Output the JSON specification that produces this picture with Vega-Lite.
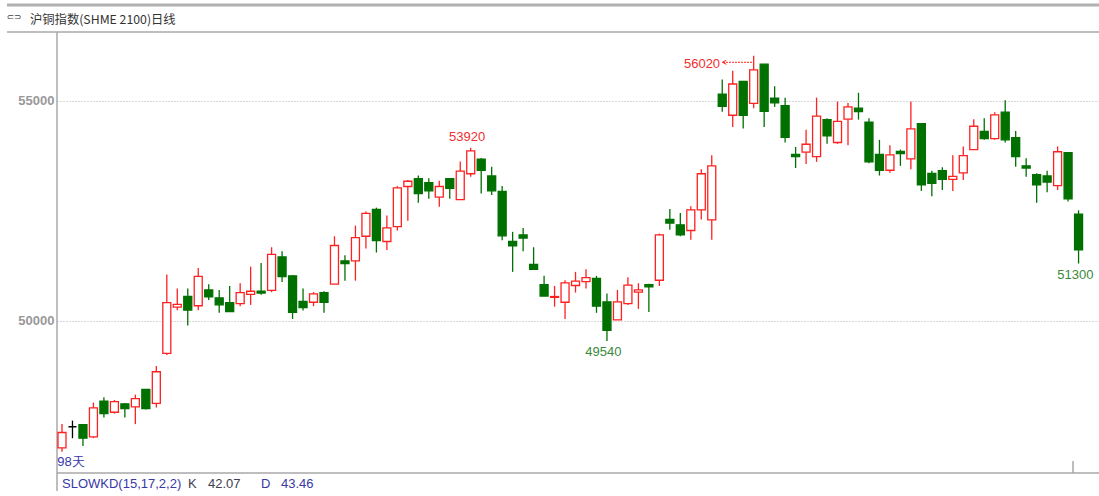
{"$schema":"https://vega.github.io/schema/vega-lite/v6.json","width":1042,"height":487,"padding":{"left":57,"top":4,"right":0,"bottom":5},"autosize":"none","background":"white","view":{"stroke":null},
"title":{"text":"沪铜指数(SHME 2100)日线","anchor":"start","frame":"group","dx":-27,"offset":-23,"font":"Noto Sans CJK SC","fontSize":12.3,"fontWeight":"normal","color":"#333333"},
"datasets":{
"candles":[
{"i":0,"o":47110,"h":47650,"l":47020,"c":47460,"d":"up"},{"i":1,"o":47590,"h":47730,"l":47330,"c":47590,"d":"flat"},{"i":2,"o":47640,"h":47650,"l":47150,"c":47330,"d":"down"},{"i":3,"o":47360,"h":48140,"l":47330,"c":48020,"d":"up"},{"i":4,"o":48170,"h":48260,"l":47800,"c":47890,"d":"down"},{"i":5,"o":47920,"h":48200,"l":47890,"c":48160,"d":"up"},{"i":6,"o":48110,"h":48130,"l":47800,"c":48000,"d":"down"},{"i":7,"o":48040,"h":48320,"l":47650,"c":48230,"d":"up"},{"i":8,"o":48440,"h":48440,"l":47980,"c":48000,"d":"down"},{"i":9,"o":48120,"h":48970,"l":48030,"c":48840,"d":"up"},
{"i":10,"o":49260,"h":51050,"l":49220,"c":50410,"d":"up"},{"i":11,"o":50310,"h":50730,"l":50240,"c":50370,"d":"up"},{"i":12,"o":50550,"h":50730,"l":49890,"c":50240,"d":"down"},{"i":13,"o":50340,"h":51200,"l":50240,"c":51010,"d":"up"},{"i":14,"o":50700,"h":50830,"l":50470,"c":50540,"d":"down"},{"i":15,"o":50520,"h":50700,"l":50180,"c":50360,"d":"down"},{"i":16,"o":50410,"h":50790,"l":50210,"c":50210,"d":"down"},{"i":17,"o":50390,"h":50850,"l":50330,"c":50640,"d":"up"},{"i":18,"o":50600,"h":51230,"l":50360,"c":50670,"d":"up"},{"i":19,"o":50670,"h":51310,"l":50590,"c":50630,"d":"down"},
{"i":20,"o":50690,"h":51670,"l":50650,"c":51510,"d":"up"},{"i":21,"o":51450,"h":51580,"l":50880,"c":51000,"d":"down"},{"i":22,"o":51020,"h":51040,"l":50040,"c":50190,"d":"down"},{"i":23,"o":50440,"h":50730,"l":50230,"c":50300,"d":"down"},{"i":24,"o":50420,"h":50650,"l":50330,"c":50610,"d":"up"},{"i":25,"o":50640,"h":50670,"l":50180,"c":50420,"d":"down"},{"i":26,"o":50830,"h":51920,"l":50830,"c":51710,"d":"up"},{"i":27,"o":51360,"h":51490,"l":50910,"c":51300,"d":"down"},{"i":28,"o":51360,"h":52160,"l":50910,"c":51890,"d":"up"},{"i":29,"o":51920,"h":52480,"l":51640,"c":52440,"d":"up"},
{"i":30,"o":52530,"h":52570,"l":51550,"c":51820,"d":"down"},{"i":31,"o":51800,"h":52390,"l":51610,"c":52110,"d":"up"},{"i":32,"o":52140,"h":53060,"l":52050,"c":53020,"d":"up"},{"i":33,"o":53050,"h":53200,"l":52270,"c":53170,"d":"up"},{"i":34,"o":53230,"h":53300,"l":52680,"c":52890,"d":"down"},{"i":35,"o":53140,"h":53240,"l":52770,"c":52950,"d":"down"},{"i":36,"o":52810,"h":53180,"l":52590,"c":53050,"d":"up"},{"i":37,"o":53230,"h":53240,"l":52770,"c":53010,"d":"down"},{"i":38,"o":52750,"h":53620,"l":52750,"c":53400,"d":"up"},{"i":39,"o":53340,"h":53930,"l":53270,"c":53860,"d":"up"},
{"i":40,"o":53670,"h":53700,"l":52890,"c":53420,"d":"down"},{"i":41,"o":53290,"h":53500,"l":52860,"c":52950,"d":"down"},{"i":42,"o":52940,"h":53060,"l":51830,"c":51930,"d":"down"},{"i":43,"o":51800,"h":52020,"l":51110,"c":51700,"d":"down"},{"i":44,"o":51950,"h":52110,"l":51580,"c":51880,"d":"down"},{"i":45,"o":51280,"h":51670,"l":51170,"c":51170,"d":"down"},{"i":46,"o":50820,"h":51020,"l":50560,"c":50560,"d":"down"},{"i":47,"o":50530,"h":50790,"l":50320,"c":50550,"d":"up"},{"i":48,"o":50420,"h":50920,"l":50040,"c":50860,"d":"up"},{"i":49,"o":50800,"h":51110,"l":50640,"c":50900,"d":"up"},
{"i":50,"o":50890,"h":51170,"l":50730,"c":50980,"d":"up"},{"i":51,"o":50960,"h":51020,"l":50180,"c":50330,"d":"down"},{"i":52,"o":50430,"h":50620,"l":49540,"c":49780,"d":"down"},{"i":53,"o":50020,"h":50700,"l":50020,"c":50430,"d":"up"},{"i":54,"o":50390,"h":50990,"l":50360,"c":50810,"d":"up"},{"i":55,"o":50650,"h":50850,"l":50270,"c":50700,"d":"up"},{"i":56,"o":50820,"h":50840,"l":50200,"c":50770,"d":"down"},{"i":57,"o":50920,"h":51980,"l":50790,"c":51950,"d":"up"},{"i":58,"o":52300,"h":52540,"l":52070,"c":52220,"d":"down"},{"i":59,"o":52180,"h":52450,"l":51920,"c":51950,"d":"down"},
{"i":60,"o":52050,"h":52600,"l":51840,"c":52520,"d":"up"},{"i":61,"o":52520,"h":53440,"l":52300,"c":53340,"d":"up"},{"i":62,"o":52290,"h":53760,"l":51840,"c":53520,"d":"up"},{"i":63,"o":55150,"h":55480,"l":54750,"c":54870,"d":"down"},{"i":64,"o":54670,"h":55680,"l":54400,"c":55380,"d":"up"},{"i":65,"o":55440,"h":55450,"l":54370,"c":54670,"d":"down"},{"i":66,"o":54940,"h":56020,"l":54830,"c":55700,"d":"up"},{"i":67,"o":55830,"h":55830,"l":54400,"c":54760,"d":"down"},{"i":68,"o":55060,"h":55330,"l":54860,"c":54950,"d":"down"},{"i":69,"o":54890,"h":55070,"l":54050,"c":54170,"d":"down"},
{"i":70,"o":53780,"h":53950,"l":53470,"c":53730,"d":"down"},{"i":71,"o":53830,"h":54340,"l":53560,"c":54010,"d":"up"},{"i":72,"o":53730,"h":55070,"l":53610,"c":54650,"d":"up"},{"i":73,"o":54570,"h":54600,"l":54020,"c":54200,"d":"down"},{"i":74,"o":54050,"h":54980,"l":54020,"c":54530,"d":"up"},{"i":75,"o":54580,"h":54950,"l":53990,"c":54860,"d":"up"},{"i":76,"o":54830,"h":55180,"l":54570,"c":54750,"d":"down"},{"i":77,"o":54510,"h":54600,"l":53580,"c":53610,"d":"down"},{"i":78,"o":53780,"h":54110,"l":53300,"c":53420,"d":"down"},{"i":79,"o":53420,"h":53990,"l":53360,"c":53770,"d":"up"},
{"i":80,"o":53850,"h":53890,"l":53520,"c":53800,"d":"down"},{"i":81,"o":53680,"h":54980,"l":53440,"c":54360,"d":"up"},{"i":82,"o":54480,"h":54490,"l":52950,"c":53090,"d":"down"},{"i":83,"o":53350,"h":53410,"l":52830,"c":53120,"d":"down"},{"i":84,"o":53410,"h":53490,"l":52970,"c":53210,"d":"down"},{"i":85,"o":53210,"h":53760,"l":52950,"c":53280,"d":"up"},{"i":86,"o":53360,"h":53960,"l":53200,"c":53750,"d":"up"},{"i":87,"o":53890,"h":54580,"l":53890,"c":54420,"d":"up"},{"i":88,"o":54300,"h":54600,"l":54110,"c":54140,"d":"down"},{"i":89,"o":54140,"h":54740,"l":54110,"c":54680,"d":"up"},
{"i":90,"o":54740,"h":55010,"l":54050,"c":54110,"d":"down"},{"i":91,"o":54160,"h":54310,"l":53500,"c":53730,"d":"down"},{"i":92,"o":53520,"h":53690,"l":53270,"c":53470,"d":"down"},{"i":93,"o":53320,"h":53350,"l":52680,"c":53090,"d":"down"},{"i":94,"o":53290,"h":53410,"l":52920,"c":53150,"d":"down"},{"i":95,"o":53070,"h":53960,"l":52970,"c":53840,"d":"up"},{"i":96,"o":53820,"h":53820,"l":52710,"c":52770,"d":"down"},{"i":97,"o":52420,"h":52510,"l":51300,"c":51610,"d":"down"}
],
"centered":[
{"i":38.65,"p":54175,"label":"53920","kind":"high"},{"i":61.07,"p":55834,"label":"56020","kind":"high"},{"i":51.65,"p":49289,"label":"49540","kind":"low"},{"i":96.7,"p":51039,"label":"51300","kind":"low"}
],
"status":[
{"i":-0.45,"p":46789,"label":"98天","kind":"blue"},{"i":0,"p":46289,"label":"SLOWKD(15,17,2,2)","kind":"blue"},{"i":12.02,"p":46289,"label":"K","kind":"dark"},{"i":13.93,"p":46289,"label":"42.07","kind":"dark"},{"i":18.99,"p":46289,"label":"D","kind":"blue"},{"i":20.9,"p":46289,"label":"43.46","kind":"blue"}
],
"frame":[
{"i0":-5.25,"i1":98.95,"p0":56563,"p1":56563},{"i0":-0.477,"i1":98.95,"p0":46539,"p1":46539},{"i0":-0.477,"i1":-0.477,"p0":56563,"p1":46130},{"i0":96.47,"i1":96.47,"p0":46810,"p1":46539}
]
},
"layer":[
{"data":{"name":"frame"},"mark":{"type":"rule","color":"#a8a8a8","strokeWidth":1.5},"encoding":{"x":{"field":"i0","type":"quantitative","scale":{"domain":[-0.477,98.95],"nice":false,"zero":false,"padding":0},"axis":null},"x2":{"field":"i1"},"y":{"field":"p0","type":"quantitative","scale":{"domain":[46130,57198],"nice":false,"zero":false,"padding":0},"axis":{"title":null,"values":[50000,55000],"format":"d","domain":false,"ticks":false,"labelPadding":3,"labelColor":"#999999","labelFont":"Liberation Sans","labelFontSize":13,"labelFontWeight":"bold","grid":true,"gridColor":"#b0b0b0","gridDash":[1,2],"gridWidth":1}},"y2":{"field":"p1"}}},
{"data":{"values":[{"i0":-5.25,"i1":98.95,"p":57175}]},"mark":{"type":"rule","color":"#b0b0b0","strokeWidth":3},"encoding":{"x":{"field":"i0","type":"quantitative"},"x2":{"field":"i1"},"y":{"field":"p","type":"quantitative"}}},
{"data":{"name":"candles"},"mark":{"type":"rule","strokeWidth":1.3},"encoding":{"x":{"field":"i","type":"quantitative"},"y":{"field":"h","type":"quantitative"},"y2":{"field":"l"},"color":{"field":"d","type":"nominal","legend":null,"scale":{"domain":["up","down","flat","high","low","blue","dark"],"range":["#ff2020","#007000","#000000","#f03030","#3a8a3a","#3838a8","#404050"]}}}},
{"data":{"name":"candles"},"mark":{"type":"bar","size":8,"strokeWidth":1.3,"clip":false},"encoding":{"x":{"field":"i","type":"quantitative"},"y":{"field":"o","type":"quantitative"},"y2":{"field":"c"},"stroke":{"field":"d","type":"nominal","legend":null,"scale":{"domain":["up","down","flat"],"range":["#ff2020","#007000","#000000"]}},"fill":{"field":"d","type":"nominal","legend":null,"scale":{"domain":["up","down","flat"],"range":["#ffffff","#007000","#000000"]}}}},
{"data":{"values":[{"i0":63.07,"i1":65.84,"p":55873}]},"mark":{"type":"rule","color":"#ff2020","strokeWidth":1,"strokeDash":[2,1]},"encoding":{"x":{"field":"i0","type":"quantitative"},"x2":{"field":"i1"},"y":{"field":"p","type":"quantitative"}}},
{"data":{"values":[{"i":63.2,"p":55873}]},"mark":{"type":"point","shape":"M1,-1L-1,0L1,1","size":16,"filled":false,"stroke":"#ff2020","strokeWidth":1,"opacity":1},"encoding":{"x":{"field":"i","type":"quantitative"},"y":{"field":"p","type":"quantitative"}}},
{"data":{"values":[{"i":-5.3,"p":56900,"label":"⊂⊃"}]},"mark":{"type":"text","font":"DejaVu Sans","fontSize":9,"align":"left","baseline":"middle","color":"#404040"},"encoding":{"x":{"field":"i","type":"quantitative"},"y":{"field":"p","type":"quantitative"},"text":{"field":"label"}}},
{"data":{"name":"centered"},"mark":{"type":"text","font":"Liberation Sans","fontSize":13,"align":"center","baseline":"middle"},"encoding":{"x":{"field":"i","type":"quantitative"},"y":{"field":"p","type":"quantitative"},"text":{"field":"label"},"color":{"field":"kind","type":"nominal","legend":null,"scale":{"domain":["up","down","flat","high","low","blue","dark"],"range":["#ff2020","#007000","#000000","#f03030","#3a8a3a","#3838a8","#404050"]}}}},
{"data":{"name":"status"},"mark":{"type":"text","font":"Liberation Sans","fontSize":13,"align":"left","baseline":"middle"},"encoding":{"x":{"field":"i","type":"quantitative"},"y":{"field":"p","type":"quantitative"},"text":{"field":"label"},"color":{"field":"kind","type":"nominal","legend":null,"scale":{"domain":["up","down","flat","high","low","blue","dark"],"range":["#ff2020","#007000","#000000","#f03030","#3a8a3a","#3838a8","#404050"]}}}}
]}
